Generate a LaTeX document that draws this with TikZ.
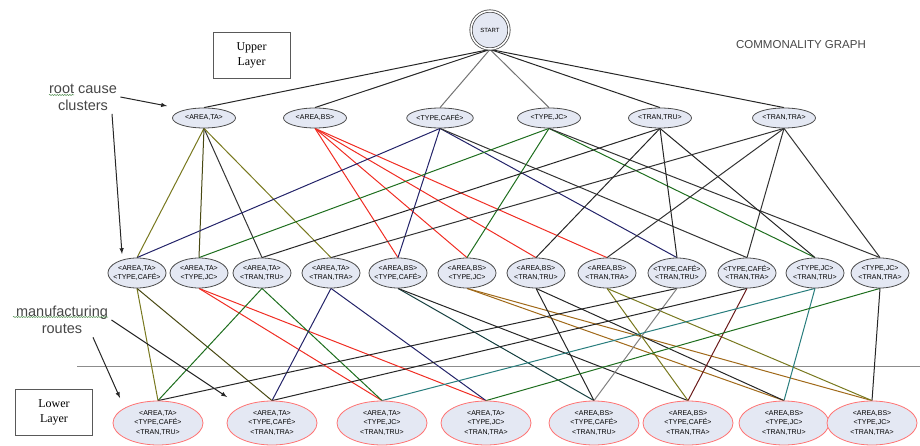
\documentclass[tikz,border=0pt]{standalone}
\usepackage{fontspec}
\setmainfont{Liberation Serif}
\setsansfont{Liberation Sans}
\usetikzlibrary{shapes.geometric,backgrounds,decorations.pathmorphing}
\definecolor{nodefill}{RGB}{228,232,243}
\definecolor{olv}{RGB}{120,120,30}
\definecolor{nvy}{RGB}{35,35,105}
\definecolor{grn}{RGB}{30,110,30}
\definecolor{tl}{RGB}{40,125,125}
\definecolor{rd}{RGB}{240,45,35}
\definecolor{brn}{RGB}{160,105,25}
\definecolor{mrn}{RGB}{105,25,25}
\definecolor{ink}{RGB}{70,70,70}
\begin{document}
\begin{tikzpicture}[x=1pt, y=-1pt,
  cluster/.style={ellipse, draw=black!70, fill=nodefill, line width=0.8pt, inner sep=0pt,
    minimum width=63pt, minimum height=20pt, font=\sffamily\fontsize{7}{7.5}\selectfont},
  pair/.style={cluster, inner xsep=-3pt, minimum width=58pt, minimum height=30pt, align=center,
    font=\sffamily\fontsize{7}{8.5}\selectfont},
  route/.style={cluster, draw=red!55, minimum width=90pt, minimum height=44pt, align=center,
    font=\sffamily\fontsize{7}{9.5}\selectfont},
  link/.style={line width=1pt},
  layerbox/.style={draw=black!65, line width=0.8pt, minimum width=77pt, minimum height=46pt,
    align=center, font=\fontsize{12}{15}\selectfont},
  note/.style={text=ink, align=center, font=\sffamily\fontsize{14.5}{17}\selectfont},
  pointer/.style={-latex, line width=1pt, black!85},
  spell/.style={grn!80, line width=0.5pt, decorate, decoration={snake, amplitude=0.6pt, segment length=2.5pt}}]
\useasboundingbox (0,0) rectangle (920,446);

% upper layer
\node[cluster, circle, double, double distance=1.5pt, minimum size=38pt,
  font=\sffamily\fontsize{6}{7}\selectfont] (start) at (490,30) {START};
\foreach \n/\x/\lab in {ta/204/{<AREA,TA>}, bs/315/{<AREA,BS>}, cafe/440/{<TYPE,CAFÉ>},
  jc/549/{<TYPE,JC>}, tru/660/{<TRAN,TRU>}, tra/784/{<TRAN,TRA>}}
  \node[cluster] (\n) at (\x,118) {\lab};

% pairs
\foreach \n/\x/\lab in {tacafe/137/{<AREA,TA>\\<TYPE,CAFÉ>}, tajc/199/{<AREA,TA>\\<TYPE,JC>},
  tatru/262/{<AREA,TA>\\<TRAN,TRU>}, tatra/331/{<AREA,TA>\\<TRAN,TRA>},
  bscafe/398/{<AREA,BS>\\<TYPE,CAFÉ>}, bsjc/467/{<AREA,BS>\\<TYPE,JC>},
  bstru/536/{<AREA,BS>\\<TRAN,TRU>}, bstra/607/{<AREA,BS>\\<TRAN,TRA>},
  cafetru/677/{<TYPE,CAFÉ>\\<TRAN,TRU>}, cafetra/747/{<TYPE,CAFÉ>\\<TRAN,TRA>},
  jctru/815/{<TYPE,JC>\\<TRAN,TRU>}, jctra/880/{<TYPE,JC>\\<TRAN,TRA>}}
  \node[pair] (\n) at (\x,273) {\lab};

% lower layer
\foreach \n/\x/\lab in {tacafetru/158/{<AREA,TA>\\<TYPE,CAFÉ>\\<TRAN,TRU>},
  tacafetra/272/{<AREA,TA>\\<TYPE,CAFÉ>\\<TRAN,TRA>}, tajctru/382/{<AREA,TA>\\<TYPE,JC>\\<TRAN,TRU>},
  tajctra/486/{<AREA,TA>\\<TYPE,JC>\\<TRAN,TRA>}, bscafetru/594/{<AREA,BS>\\<TYPE,CAFÉ>\\<TRAN,TRU>},
  bscafetra/688/{<AREA,BS>\\<TYPE,CAFÉ>\\<TRAN,TRA>}, bsjctru/784/{<AREA,BS>\\<TYPE,JC>\\<TRAN,TRU>},
  bsjctra/872/{<AREA,BS>\\<TYPE,JC>\\<TRAN,TRA>}}
  \node[route] (\n) at (\x,423) {\lab};

\begin{scope}[on background layer]
\draw[black!45, line width=1pt] (77,366) -- (920,366);
\foreach \a/\b/\col in {start/ta/black!85, start/bs/black!85, start/cafe/black!55,
  start/jc/black!55, start/tru/black!85, start/tra/black!85,
  ta/tacafe/olv, ta/tajc/olv!60!black, ta/tatru/black!80, ta/tatra/olv,
  bs/bscafe/rd, bs/bsjc/rd, bs/bstru/rd, bs/bstra/rd,
  cafe/tacafe/nvy, cafe/bscafe/nvy, cafe/cafetru/nvy, cafe/cafetra/black!80,
  jc/tajc/grn, jc/bsjc/grn, jc/jctru/grn, jc/jctra/black!80,
  tru/tatru/black!85, tru/bstru/black!85, tru/cafetru/black!85, tru/jctru/black!85,
  tra/tatra/black!80, tra/bstra/black!80, tra/cafetra/black!80, tra/jctra/black!80,
  tacafe/tacafetru/olv, tacafe/tacafetra/olv!60!black,
  tajc/tajctru/rd, tajc/tajctra/rd,
  tatru/tacafetru/grn, tatru/tajctru/grn,
  tatra/tacafetra/nvy, tatra/tajctra/nvy,
  bscafe/bscafetru/tl!50!black, bscafe/bscafetra/black!85,
  bsjc/bsjctru/brn, bsjc/bsjctra/brn,
  bstru/bscafetru/black!85, bstru/bsjctru/black!85,
  bstra/bscafetra/olv, bstra/bsjctra/olv,
  cafetru/tacafetru/black!85, cafetru/bscafetru/black!50,
  cafetra/tacafetra/black!85, cafetra/bscafetra/mrn,
  jctru/tajctru/tl, jctru/bsjctru/tl,
  jctra/tajctra/grn, jctra/bsjctra/black!85}
  \draw[link, \col] (\a.south) -- (\b.north);
\end{scope}

% labels
\node[layerbox] (upper) at (251.5,55) {Upper\\Layer};
\node[layerbox] (lower) at (54,412.5) {Lower\\Layer};
\node[text=ink, font=\sffamily\fontsize{11.5}{13}\selectfont] (title) at (801,45) {COMMONALITY GRAPH};
\node[note] (rootnote) at (83,97) {root cause\\clusters};
\node[note] (mfgnote) at (62,320) {manufacturing\\routes};
\coordinate (rootTip) at (167,106);
\coordinate (pairTip) at (122,254);
\coordinate (routeTipA) at (227,397);
\coordinate (routeTipB) at (120,398);
\draw[pointer] (rootnote.east) -- (rootTip);
\draw[pointer] ([xshift=29pt]rootnote.south) -- (pairTip);
\draw[pointer] (mfgnote.east) -- (routeTipA);
\draw[pointer] ([xshift=31pt]mfgnote.south) -- (routeTipB);
\draw[spell] (49,95) -- (74,95);
\draw[spell] (13,317) -- (108,317);
\end{tikzpicture}
\end{document}
